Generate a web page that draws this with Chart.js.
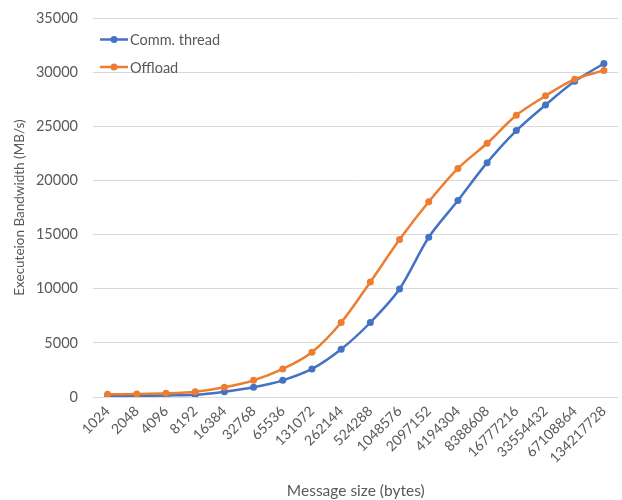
<!DOCTYPE html>
<html>
<head>
<meta charset="utf-8">
<script src="https://cdn.jsdelivr.net/npm/chart.js@4/dist/chart.umd.min.js"></script>
<style>
  html, body { margin: 0; padding: 0; background: #ffffff; }
  #wrap { width: 622px; height: 500px; }
</style>
</head>
<body>
<div id="wrap"><canvas id="chart" width="622" height="500"></canvas></div>
<script>
// Message sizes (bytes)
const messageSizes = [
  '1024', '2048', '4096', '8192', '16384', '32768', '65536', '131072',
  '262144', '524288', '1048576', '2097152', '4194304', '8388608',
  '16777216', '33554432', '67108864', '134217728'
];

// Execution bandwidth in MB/s
const commThread = [
  90, 100, 150, 200, 490, 900, 1540, 2590,
  4410, 6880, 9970, 14750, 18150, 21640,
  24600, 26970, 29150, 30800
];
const offload = [
  250, 280, 340, 490, 900, 1540, 2590, 4140,
  6880, 10620, 14540, 18030, 21110, 23430,
  26020, 27810, 29350, 30160
];

const yTicks = [0, 5000, 10000, 15000, 20000, 25000, 30000, 35000];

const FONT = 'Lato, "Open Sans", "DejaVu Sans", sans-serif';
const TEXT = '#595959';
const BLUE = '#4472C4';
const ORANGE = '#ED7D31';

// Legend drawn inside the plot area, top-left
const insideLegend = {
  id: 'insideLegend',
  afterDraw(chart) {
    const ctx = chart.ctx;
    const area = chart.chartArea;
    const items = [chart.data.datasets[0], chart.data.datasets[1]];
    ctx.save();
    items.forEach((ds, i) => {
      const y = 39.5 + i * 27.5;
      const x0 = area.left + 7;
      ctx.strokeStyle = ds.borderColor;
      ctx.lineWidth = 2.5;
      ctx.beginPath();
      ctx.moveTo(x0, y);
      ctx.lineTo(x0 + 28, y);
      ctx.stroke();
      ctx.fillStyle = ds.borderColor;
      ctx.beginPath();
      ctx.arc(x0 + 14, y, 3.5, 0, Math.PI * 2);
      ctx.fill();
      ctx.fillStyle = TEXT;
      ctx.font = '14.5px ' + FONT;
      ctx.textAlign = 'left';
      ctx.textBaseline = 'middle';
      ctx.fillText(ds.label, x0 + 30, y + 1);
    });
    ctx.restore();
  }
};

new Chart(document.getElementById('chart'), {
  type: 'line',
  data: {
    labels: messageSizes,
    datasets: [
      {
        label: 'Comm. thread',
        data: commThread,
        borderColor: BLUE,
        backgroundColor: BLUE,
        borderWidth: 2.5,
        pointRadius: 3.5,
        pointHoverRadius: 3.5,
        pointBorderWidth: 0,
        tension: 0.3,
        order: 1
      },
      {
        label: 'Offload',
        data: offload,
        borderColor: ORANGE,
        backgroundColor: ORANGE,
        borderWidth: 2.5,
        pointRadius: 3.5,
        pointHoverRadius: 3.5,
        pointBorderWidth: 0,
        tension: 0.3,
        order: 0
      }
    ]
  },
  options: {
    responsive: false,
    animation: false,
    layout: { padding: { top: 18, right: 2, bottom: 0, left: 0 } },
    plugins: {
      legend: { display: false },
      tooltip: { enabled: false }
    },
    scales: {
      x: {
        type: 'category',
        offset: true,
        grid: { display: false, drawTicks: false },
        border: { display: false },
        ticks: {
          color: TEXT,
          font: { family: FONT, size: 14 },
          autoSkip: false,
          minRotation: 45,
          maxRotation: 45,
          padding: 6
        },
        title: {
          display: true,
          text: 'Message size (bytes)',
          color: TEXT,
          font: { family: FONT, size: 15.5 },
          padding: { top: 4, bottom: 0 }
        },
        afterFit(scale) { scale.height = 103; }
      },
      y: {
        min: 0,
        max: 35000,
        afterBuildTicks(scale) { scale.ticks = yTicks.map(v => ({ value: v })); },
        grid: { color: '#d9d9d9', lineWidth: 1, drawTicks: false },
        border: { display: false },
        ticks: {
          color: TEXT,
          font: { family: FONT, size: 14.5 },
          padding: 15,
          callback: (v) => String(v)
        },
        title: {
          display: true,
          text: 'Executeion Bandwidth (MB/s)',
          color: TEXT,
          font: { family: FONT, size: 13.5 },
          padding: { top: 12, bottom: 0 }
        },
        afterFit(scale) {
          scale.width = 93;
          scale.paddingTop = 0;
          scale.paddingBottom = 0;
        }
      }
    }
  },
  plugins: [insideLegend]
});
</script>
</body>
</html>
